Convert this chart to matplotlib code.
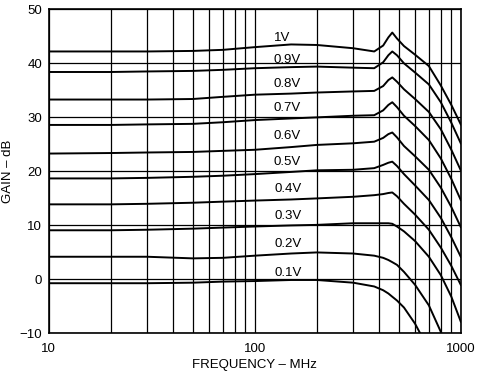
import numpy as np
import matplotlib
matplotlib.use("Agg")
import matplotlib.pyplot as plt
from matplotlib.ticker import LogLocator, FixedLocator, NullFormatter

plt.rcParams["font.family"] = ["Liberation Sans", "DejaVu Sans"]

# frequency points (MHz)
freq = [10, 20, 30, 50, 70, 100, 150, 200, 300, 380, 420, 445, 465, 490,
        530, 600, 700, 800, 900, 1000]

# gain (dB) per control voltage
g_1v0 = [42.2, 42.2, 42.2, 42.3, 42.5, 43.0, 43.5, 43.4, 42.8, 42.2, 43.3, 44.8,
         45.7, 44.6, 43.2, 41.6, 39.5, 35.9, 32.3, 28.7]
g_0v9 = [38.4, 38.4, 38.5, 38.6, 38.8, 39.1, 39.3, 39.4, 39.2, 39.1, 40.2, 41.5,
         42.2, 41.5, 40.0, 38.3, 36.1, 32.8, 29.0, 25.2]
g_0v8 = [33.3, 33.3, 33.3, 33.4, 33.8, 34.2, 34.4, 34.6, 34.8, 34.9, 35.8, 36.9,
         37.4, 36.6, 35.2, 33.4, 31.0, 27.8, 24.0, 20.2]
g_0v7 = [28.6, 28.6, 28.7, 28.8, 29.1, 29.5, 29.8, 30.0, 30.3, 30.4, 31.3, 32.3,
         32.8, 31.9, 30.3, 28.4, 25.8, 22.4, 18.6, 14.7]
g_0v6 = [23.3, 23.4, 23.5, 23.6, 23.8, 24.0, 24.5, 24.9, 25.2, 25.5, 26.2, 26.9,
         27.2, 26.3, 24.7, 22.8, 20.3, 17.0, 13.4, 9.7]
g_0v5 = [18.7, 18.7, 18.8, 19.0, 19.2, 19.5, 19.9, 20.2, 20.3, 20.6, 21.2, 21.6,
         21.8, 21.0, 19.5, 17.4, 14.7, 11.4, 7.8, 4.2]
g_0v4 = [13.9, 13.9, 14.0, 14.2, 14.4, 14.6, 14.8, 15.0, 15.3, 15.6, 15.8, 16.0,
         16.1, 15.4, 14.0, 12.0, 9.2, 5.9, 2.5, -1.0]
g_0v3 = [9.1, 9.1, 9.2, 9.4, 9.6, 9.8, 10.0, 10.1, 10.4, 10.4, 10.4, 10.4,
         10.3, 9.8, 8.9, 7.1, 4.2, 0.8, -3.2, -7.8]
g_0v2 = [4.2, 4.2, 4.2, 3.9, 4.0, 4.4, 4.8, 5.0, 4.8, 4.4, 4.0, 3.6,
         3.2, 2.7, 1.4, -1.0, -4.8, -9.7, -15.2, np.nan]
g_0v1 = [-0.7, -0.7, -0.7, -0.6, -0.4, -0.3, -0.1, -0.1, -0.6, -1.3, -2.0, -2.6,
         -3.2, -3.9, -5.2, -8.2, -13.0, np.nan, np.nan, np.nan]

curves = [g_1v0, g_0v9, g_0v8, g_0v7, g_0v6, g_0v5, g_0v4, g_0v3, g_0v2, g_0v1]
labels = ["1V", "0.9V", "0.8V", "0.7V", "0.6V", "0.5V", "0.4V", "0.3V", "0.2V", "0.1V"]
label_f = [135, 143, 143, 143, 143, 144, 145, 145, 145, 146]
label_db = [44.7, 40.6, 36.2, 31.8, 26.5, 21.7, 16.8, 11.7, 6.5, 1.2]

fig = plt.figure(figsize=(4.84, 3.73), dpi=100)
ax = fig.add_axes([0.101, 0.106, 0.851, 0.869])

for g in curves:
    ax.plot(freq, g, color="black", lw=1.4, solid_joinstyle="round")

for lab, f, db in zip(labels, label_f, label_db):
    ax.text(f, db, lab, fontsize=9.5, ha="center", va="center")

ax.set_xscale("log")
ax.set_xlim(10, 1000)
ax.set_ylim(-10, 50)
ax.xaxis.set_major_locator(FixedLocator([10, 100, 1000]))
ax.xaxis.set_minor_locator(LogLocator(base=10, subs=np.arange(2, 10)))
ax.xaxis.set_minor_formatter(NullFormatter())
ax.set_xticklabels(["10", "100", "1000"])
ax.set_yticks(np.arange(-10, 51, 10))
ax.set_yticklabels(["\u221210", "0", "10", "20", "30", "40", "50"])
ax.tick_params(which="both", length=0, labelsize=9.5)
ax.tick_params(axis="x", pad=7)
ax.tick_params(axis="y", pad=5)
ax.grid(which="both", color="black", lw=0.9)

for s in ax.spines.values():
    s.set_linewidth(1.2)

ax.set_xlabel("FREQUENCY \u2013 MHz", fontsize=9.5, labelpad=3)
ax.set_ylabel("GAIN \u2013 dB", fontsize=9.5, labelpad=4)

fig.savefig("out.png", dpi=100)
